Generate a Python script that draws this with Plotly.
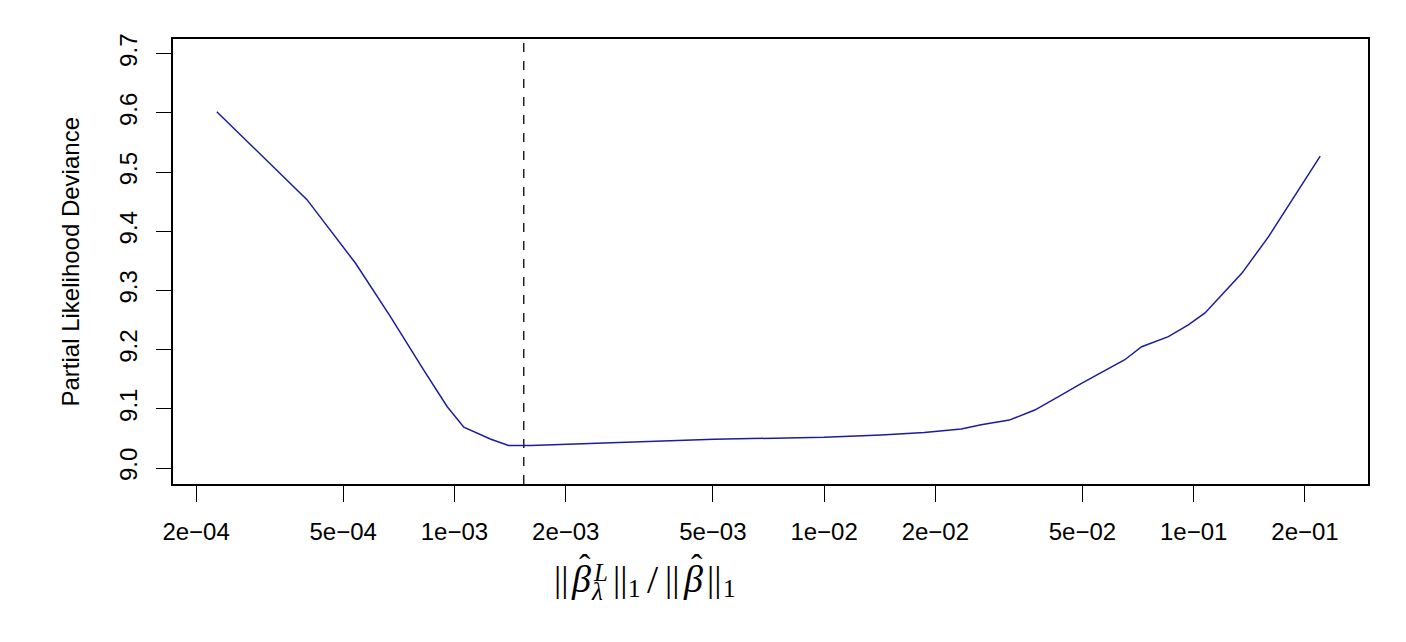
import plotly.graph_objects as go

# norm ratio (x) and partial likelihood deviance (y)
ratio = [2.275e-4, 3.99e-4, 5.40e-4, 6.71e-4, 8.25e-4, 9.55e-4, 1.06e-3, 1.25e-3,
         1.40e-3, 1.61e-3, 5.04e-3, 1.0e-2, 1.427e-2, 1.866e-2, 2.35e-2, 2.66e-2,
         3.17e-2, 3.715e-2, 4.39e-2, 4.97e-2, 6.51e-2, 7.23e-2, 8.54e-2, 9.67e-2,
         0.1073, 0.1142, 0.1349, 0.1594, 0.1843, 0.2199]
deviance = [9.602, 9.4535, 9.346, 9.256, 9.166, 9.104, 9.069, 9.049,
            9.038, 9.038, 9.0486, 9.052, 9.056, 9.060, 9.066, 9.073,
            9.081, 9.098, 9.1235, 9.143, 9.183, 9.205, 9.222, 9.242,
            9.262, 9.280, 9.329, 9.391, 9.453, 9.527]

best_ratio = 1.54e-3

x_tickvals = [2e-4, 5e-4, 1e-3, 2e-3, 5e-3, 1e-2, 2e-2, 5e-2, 1e-1, 2e-1]
x_ticktext = ["2e\u221204", "5e\u221204", "1e\u221203", "2e\u221203", "5e\u221203",
              "1e\u221202", "2e\u221202", "5e\u221202", "1e\u221201", "2e\u221201"]
y_tickvals = [9.0, 9.1, 9.2, 9.3, 9.4, 9.5, 9.6, 9.7]
y_ticktext = ["9.0", "9.1", "9.2", "9.3", "9.4", "9.5", "9.6", "9.7"]

y_lo, y_hi = 8.973, 9.725

fig = go.Figure()

fig.add_trace(
    go.Scatter(
        x=[best_ratio, best_ratio],
        y=[y_lo, y_hi],
        mode="lines",
        line=dict(color="black", width=1.3, dash="dash"),
        hoverinfo="skip"
    )
)

fig.add_trace(
    go.Scatter(
        x=ratio,
        y=deviance,
        mode="lines",
        line=dict(color="#1c1ca0", width=1.5),
        name="Deviance"
    )
)

font = dict(family="Liberation Sans, Arial, sans-serif", size=24, color="black")
serif = "Liberation Serif, DejaVu Serif, serif"

# x title ||beta-hat^L_lambda||_1 / ||beta-hat||_1, built glyph by glyph
# (text, centre x in px from plot left, centre y in px below plot bottom, size)
title_pieces = [
    ("||", 388, 95, 36),
    ("<i>\u03b2</i>", 408, 95, 38),
    ("\u02c6", 412, 82, 34),
    ("<i>L</i>", 427, 88, 25),
    ("<i>\u03bb</i>", 424, 107, 25),
    ("||", 447, 95, 36),
    ("1", 461, 104, 25),
    ("/", 480, 95, 40),
    ("||", 499, 95, 36),
    ("<i>\u03b2</i>", 520, 95, 38),
    ("\u02c6", 524, 82, 34),
    ("||", 541, 95, 36),
    ("1", 556, 104, 25),
]

annotations = [
    dict(
        text="Partial Likelihood Deviance",
        xref="paper", yref="paper",
        x=0, y=0.5,
        xshift=-103,
        xanchor="center", yanchor="middle",
        textangle=-90,
        showarrow=False,
        font=font
    )
]
for text, px, py, size in title_pieces:
    annotations.append(
        dict(
            text=text,
            xref="paper", yref="paper",
            x=0, y=0,
            xshift=px, yshift=-py,
            xanchor="center", yanchor="middle",
            showarrow=False,
            font=dict(family=serif, size=size, color="black")
        )
    )

fig.update_layout(
    width=1390,
    height=626,
    margin=dict(l=165, r=30, t=31, b=150),
    paper_bgcolor="white",
    plot_bgcolor="white",
    showlegend=False,
    font=font,
    xaxis=dict(
        type="log",
        range=[-3.7615, -0.5285],
        tickvals=x_tickvals,
        ticktext=x_ticktext,
        ticks="outside",
        ticklen=16,
        tickcolor="black",
        tickwidth=1.3,
        showline=True,
        linecolor="black",
        linewidth=1.5,
        mirror=True,
        showgrid=False,
        zeroline=False,
        tickfont=font,
        ticklabelstandoff=9
    ),
    yaxis=dict(
        range=[y_lo, y_hi],
        tickvals=y_tickvals,
        ticktext=y_ticktext,
        tickangle=-90,
        ticks="outside",
        ticklen=15,
        tickcolor="black",
        tickwidth=1.3,
        showline=True,
        linecolor="black",
        linewidth=1.5,
        mirror=True,
        showgrid=False,
        zeroline=False,
        tickfont=font,
        ticklabelstandoff=10
    ),
    annotations=annotations
)

fig.write_html("out.html")
